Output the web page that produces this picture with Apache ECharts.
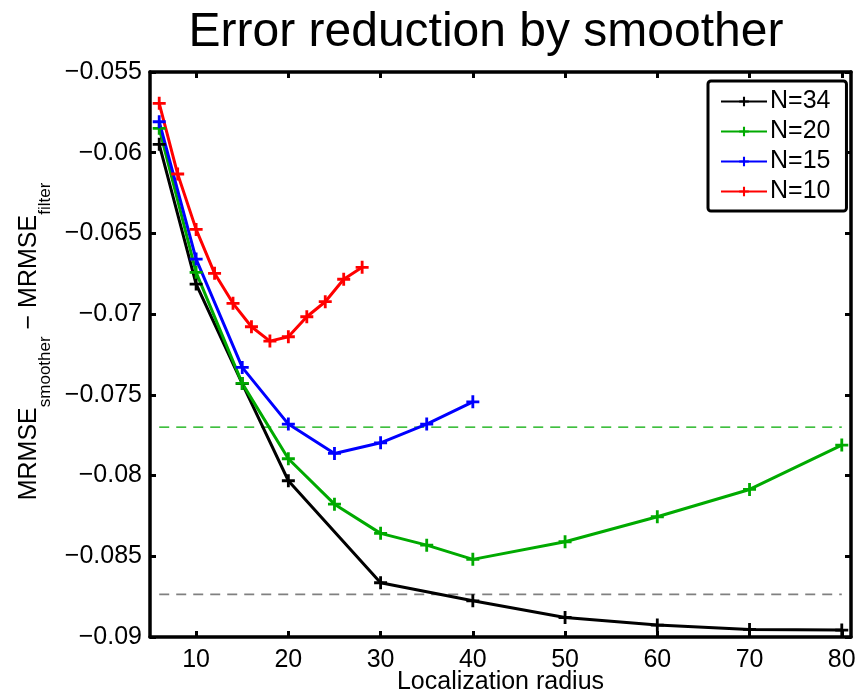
<!DOCTYPE html>
<html>
<head>
<meta charset="utf-8">
<script src="https://cdn.jsdelivr.net/npm/echarts@6/dist/echarts.min.js"></script>
<style>html,body{margin:0;padding:0;background:#fff}#c{width:859px;height:698px}</style>
</head>
<body>
<div id="c"></div>
<script>
// ---- data ----
const xN34 = [6, 10, 15, 20, 30, 40, 50, 60, 70, 80];
const yN34 = [-0.05948, -0.06814, -0.0743, -0.08032, -0.08664, -0.08776, -0.08879, -0.08926, -0.08953, -0.08957];
const xN20 = [6, 10, 15, 20, 25, 30, 35, 40, 50, 60, 70, 80];
const yN20 = [-0.05849, -0.06741, -0.07429, -0.07896, -0.08177, -0.08358, -0.08431, -0.08519, -0.0841, -0.08255, -0.08086, -0.07811];
const xN15 = [6, 10, 15, 20, 25, 30, 35, 40];
const yN15 = [-0.05808, -0.06659, -0.0733, -0.07681, -0.07863, -0.07797, -0.07681, -0.07543];
const xN10 = [6, 8, 10, 12, 14, 16, 18, 20, 22, 24, 26, 28];
const yN10 = [-0.05694, -0.06132, -0.06475, -0.06747, -0.06933, -0.07078, -0.07167, -0.0714, -0.07016, -0.06923, -0.06784, -0.0671];
const refX = [6, 80];
const refUpper = -0.077;
const refLower = -0.08736;
const xTicks = [10, 20, 30, 40, 50, 60, 70, 80];
const yTicks = [-0.09, -0.085, -0.08, -0.075, -0.07, -0.065, -0.06, -0.055];

const pair = (xs, ys) => xs.map((x, i) => [x, ys[i]]);
const plus = 'path://M-1.3,-6L1.3,-6L1.3,-1.3L6,-1.3L6,1.3L1.3,1.3L1.3,6L-1.3,6L-1.3,1.3L-6,1.3L-6,-1.3L-1.3,-1.3Z';
const FONT = 'Liberation Sans, Arial, Helvetica, sans-serif';
const fmtY = v => (Math.round(v * 1000) / 1000).toString().replace('-', '\u2212');

function lineSeries(name, xs, ys, color) {
  return {
    name, type: 'line', data: pair(xs, ys),
    symbol: plus, symbolSize: 13, showSymbol: true,
    lineStyle: { color, width: 3 }, itemStyle: { color },
    emphasis: { disabled: true }, animation: false, z: 3
  };
}
function refSeries(y, color, width) {
  return {
    type: 'line', data: refX.map(x => [x, y]), symbol: 'none',
    lineStyle: { color, width, type: [10, 7] }, silent: true, animation: false, z: 2
  };
}

const chart = echarts.init(document.getElementById('c'), null, { renderer: 'canvas' });
const axisLineStyle = { color: '#000', width: 3.5 };
chart.setOption({
  backgroundColor: '#fff',
  textStyle: { fontFamily: FONT },
  title: {
    text: 'Error reduction by smoother', left: 481, top: 4, textAlign: 'center',
    textStyle: { fontSize: 48, fontWeight: 'normal', color: '#000', fontFamily: FONT }
  },
  legend: {
    data: ['N=34', 'N=20', 'N=15', 'N=10'],
    orient: 'vertical', left: 708, top: 81,
    itemWidth: 46, itemHeight: 12, itemGap: 5,
    padding: [8, 16, 7, 12],
    borderColor: '#000', borderWidth: 3, borderRadius: 3,
    backgroundColor: '#fff',
    textStyle: { fontSize: 25, color: '#000', fontFamily: FONT, padding: [0, 0, 0, -2] },
    selectedMode: false
  },
  grid: { left: 150, right: 8, top: 72, bottom: 61, containLabel: false, outerBoundsMode: 'none' },
  xAxis: [{
    type: 'value', min: 5, max: 81,
    name: 'Localization radius', nameLocation: 'middle', nameGap: 33, nameMoveOverlap: false,
    nameTextStyle: { fontSize: 25, color: '#000', fontFamily: FONT, verticalAlign: 'top' },
    axisLine: { show: true, lineStyle: axisLineStyle },
    axisTick: { show: true, inside: true, length: 6, lineStyle: { color: '#000', width: 3 }, customValues: xTicks },
    axisLabel: { fontSize: 25, color: '#000', margin: 11, fontFamily: FONT, customValues: xTicks },
    splitLine: { show: false }
  }, {
    type: 'value', min: 5, max: 81, position: 'top',
    axisLine: { show: true, lineStyle: axisLineStyle },
    axisTick: { show: true, inside: true, length: 6, lineStyle: { color: '#000', width: 3 }, customValues: xTicks },
    axisLabel: { show: false, customValues: xTicks },
    splitLine: { show: false }
  }],
  yAxis: [{
    type: 'value', min: -0.09, max: -0.055, interval: 0.005,
    name: '{m|MRMSE}{s|smoother}{m| \u2212 MRMSE}{s|filter}',
    nameLocation: 'middle', nameGap: 103, nameRotate: 90, nameMoveOverlap: false,
    nameTextStyle: {
      color: '#000', fontFamily: FONT, padding: [0, 0, 0, 26],
      rich: {
        m: { fontSize: 25, color: '#000', fontFamily: FONT, verticalAlign: 'top', lineHeight: 30 },
        s: { fontSize: 17, color: '#000', fontFamily: FONT, verticalAlign: 'top', lineHeight: 17, padding: [20, 0, 0, 0] }
      }
    },
    axisLine: { show: true, onZero: false, lineStyle: axisLineStyle },
    axisTick: { show: true, inside: true, length: 6, lineStyle: { color: '#000', width: 3 } },
    axisLabel: { fontSize: 25, color: '#000', margin: 8, fontFamily: FONT, formatter: fmtY },
    splitLine: { show: false }
  }, {
    type: 'value', min: -0.09, max: -0.055, interval: 0.005, position: 'right',
    axisLine: { show: true, onZero: false, lineStyle: axisLineStyle },
    axisTick: { show: true, inside: true, length: 6, lineStyle: { color: '#000', width: 3 } },
    axisLabel: { show: false },
    splitLine: { show: false }
  }],
  series: [
    refSeries(refUpper, '#00aa00', 1.4),
    refSeries(refLower, '#808080', 1.6),
    lineSeries('N=34', xN34, yN34, '#000000'),
    lineSeries('N=20', xN20, yN20, '#00aa00'),
    lineSeries('N=15', xN15, yN15, '#0000ff'),
    lineSeries('N=10', xN10, yN10, '#ff0000')
  ]
});
</script>
</body>
</html>
